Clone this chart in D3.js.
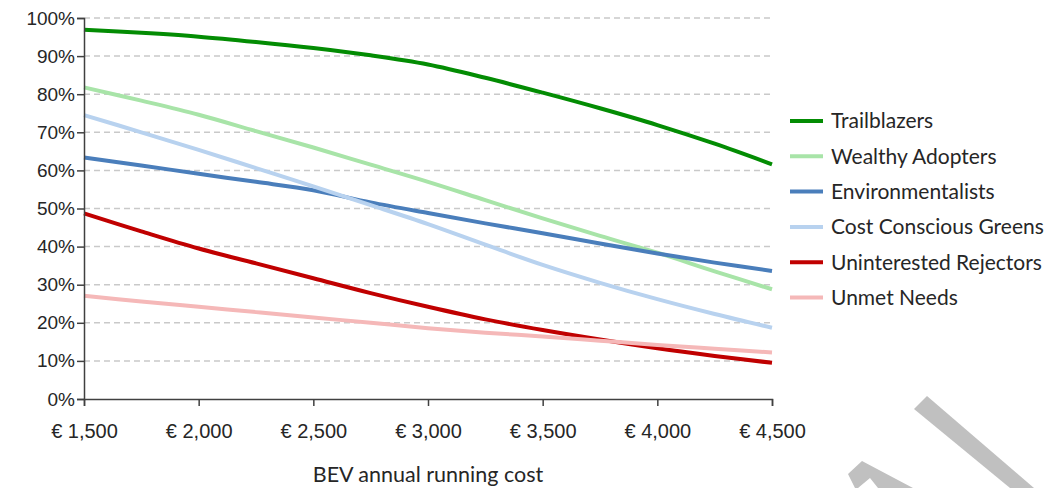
<!DOCTYPE html>
<html>
<head>
<meta charset="utf-8">
<script src="https://cdn.jsdelivr.net/npm/d3@7"></script>
<style>
  body { margin: 0; background: #fff; }
  svg { display: block; font-family: Lato, "Open Sans", sans-serif; }
  .grid line { stroke: #c9c9c9; stroke-width: 1.5; stroke-dasharray: 6 4; }
  .axis path, .axis line { stroke: #404040; stroke-width: 1.5; }
  .axis text { fill: #262626; }
</style>
</head>
<body>
<div id="view"></div>
<script>
// running cost steps (EUR)
var costs = [1500, 1750, 2000, 2250, 2500, 2750, 3000, 3250, 3500, 3750, 4000, 4250, 4500];

var segments = ["Trailblazers", "Wealthy Adopters", "Environmentalists",
                "Cost Conscious Greens", "Uninterested Rejectors", "Unmet Needs"];
var colors = ["#038c03", "#a8e4a8", "#4a7ebb", "#b8d2ef", "#c00000", "#f5b8b8"];

// share of segment choosing BEV (%)
var trailblazers  = [96.9, 96.1, 95.1, 93.7, 92.1, 90.2, 87.8, 84.3, 80.4, 76.3, 71.9, 67.0, 61.6];
var wealthy       = [81.8, 78.3, 74.6, 70.3, 66.0, 61.5, 57.0, 52.2, 47.4, 42.8, 38.4, 33.5, 28.8];
var environment   = [63.4, 61.3, 59.1, 57.0, 54.8, 51.6, 48.8, 46.1, 43.5, 40.8, 38.2, 35.8, 33.6];
var costConscious = [74.5, 70.0, 65.4, 60.6, 55.8, 50.9, 45.9, 40.5, 35.2, 30.5, 26.2, 22.3, 18.7];
var rejectors     = [48.7, 44.0, 39.5, 35.6, 31.7, 27.8, 24.2, 20.9, 18.1, 15.6, 13.3, 11.3, 9.5];
var unmet         = [27.1, 25.6, 24.2, 22.8, 21.4, 20.0, 18.6, 17.4, 16.4, 15.3, 14.2, 13.2, 12.2];

var seriesValues = [trailblazers, wealthy, environment, costConscious, rejectors, unmet];

var xTicks = [1500, 2000, 2500, 3000, 3500, 4000, 4500];
var yTicks = [0, 10, 20, 30, 40, 50, 60, 70, 80, 90, 100];

var W = 1052, H = 488;
var margin = {top: 18, left: 84},
    plotW = 688, plotH = 381;

var svg = d3.select("#view").append("svg")
    .attr("width", W)
    .attr("height", H);

var x = d3.scaleLinear().domain([1500, 4500]).range([margin.left, margin.left + plotW]);
var y = d3.scaleLinear().domain([0, 100]).range([margin.top + plotH, margin.top]);

// dashed gridlines
svg.append("g").attr("class", "grid")
  .selectAll("line")
  .data(yTicks.filter(function(d) { return d > 0; }))
  .enter().append("line")
    .attr("x1", x(1500)).attr("x2", x(4500))
    .attr("y1", function(d) { return y(d); })
    .attr("y2", function(d) { return y(d); });

// watermark fragment in the corner
var marks = [
  [[914, 409], [927, 396], [1034, 488], [1010, 488]],
  [[848, 474], [862, 461], [913, 488], [878, 488], [870, 478], [858, 488], [855, 488]]
];
svg.append("g").selectAll("polygon")
  .data(marks)
  .enter().append("polygon")
    .attr("points", function(d) { return d.join(" "); })
    .attr("fill", "#c0c0c0");

var line = d3.line()
    .x(function(d, i) { return x(costs[i]); })
    .y(function(d) { return y(d); })
    .curve(d3.curveCatmullRom);

svg.append("g").selectAll("path")
  .data(seriesValues)
  .enter().append("path")
    .attr("fill", "none")
    .attr("stroke", function(d, i) { return colors[i]; })
    .attr("stroke-width", 4)
    .attr("d", line);

// axes
var xAxis = svg.append("g").attr("class", "axis")
    .attr("transform", "translate(0," + y(0) + ")")
    .call(d3.axisBottom(x)
      .tickValues(xTicks)
      .tickSize(7)
      .tickSizeOuter(7)
      .tickPadding(18)
      .tickFormat(function(d) { return "€ " + d3.format(",")(d); }));
xAxis.selectAll("text").attr("font-size", 20);

var yAxis = svg.append("g").attr("class", "axis")
    .attr("transform", "translate(" + x(1500) + ",0)")
    .call(d3.axisLeft(y)
      .tickValues(yTicks)
      .tickSize(7)
      .tickSizeOuter(7)
      .tickPadding(2)
      .tickFormat(function(d) { return d + "%"; }));
yAxis.selectAll("text").attr("font-size", 19);

svg.append("text")
    .attr("x", 428)
    .attr("y", 482)
    .attr("text-anchor", "middle")
    .attr("font-size", 21.5)
    .attr("fill", "#262626")
    .text("BEV annual running cost");

// legend
var legend = svg.append("g")
  .selectAll("g")
  .data(segments)
  .enter().append("g")
    .attr("transform", function(d, i) { return "translate(790," + (121 + i * 35.3) + ")"; });

legend.append("line")
    .attr("x1", 0).attr("x2", 33)
    .attr("stroke", function(d, i) { return colors[i]; })
    .attr("stroke-width", 4);

legend.append("text")
    .attr("x", 41)
    .attr("dy", "0.35em")
    .attr("font-size", 21)
    .attr("fill", "#262626")
    .text(function(d) { return d; });
</script>
</body>
</html>
